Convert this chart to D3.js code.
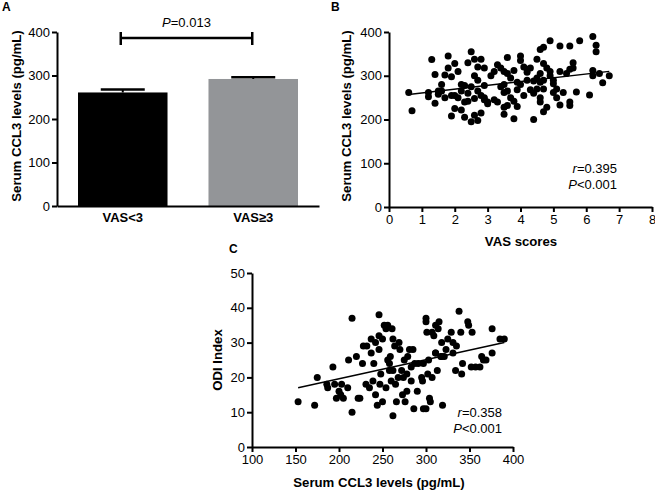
<!DOCTYPE html>
<html><head><meta charset="utf-8">
<script src="https://cdn.jsdelivr.net/npm/d3@7"></script>
<style>
body{margin:0;background:#fff;}
svg{font-family:"Liberation Sans",Arial,sans-serif;}
.axis path,.axis line{stroke:#000;stroke-width:2;}
.axis text{font-size:13px;fill:#000;}
</style></head><body>
<svg id="c" width="655" height="490"></svg>
<script>
// ---- Panel A data ----
const groups = ["VAS<3", "VAS\u22653"];
const groupMeans = [261, 292];
const groupSEM = [7, 4];
const groupColors = ["#000000", "#939598"];
const pText = "0.013";
const yTicksA = [0, 100, 200, 300, 400];

// ---- Panel B data (VAS score, CCL3) ----
const vasX = [0.6,0.7,1.2,1.2,1.3,1.4,1.4,1.5,1.5,1.6,1.7,1.7,1.8,1.8,1.9,1.9,2.0,2.0,2.0,2.1,2.1,2.2,2.2,2.3,2.3,2.3,2.4,2.4,2.4,2.5,2.5,2.6,2.6,2.6,2.6,2.7,2.7,2.7,2.7,2.8,2.8,2.8,2.9,2.9,2.9,3.0,3.0,3.2,3.2,3.3,3.4,3.5,3.5,3.5,3.5,3.6,3.6,3.6,3.7,3.7,3.8,3.8,3.8,3.9,3.9,4.0,4.0,4.0,4.1,4.2,4.2,4.3,4.3,4.4,4.4,4.5,4.6,4.6,4.6,4.6,4.7,4.7,4.7,4.7,4.7,4.8,4.8,4.9,4.9,5.0,5.0,5.1,5.1,5.2,5.2,5.2,5.3,5.4,5.5,5.5,5.5,5.6,5.6,5.7,5.8,6.1,6.2,6.2,6.2,6.3,6.3,6.4,6.5,6.7,4.6,4.5,3.1,3.4,3.6,3.3,4.1,4.4,4.9,2.2,1.9,3.9,4.5,5.0,2.5,3.5,4.2,5.5,1.6,2.9];
const vasY = [262,220,262,252,337,303,237,265,258,280,250,302,345,318,298,208,328,255,225,310,250,280,222,278,205,240,330,260,242,355,195,338,300,248,210,320,290,265,198,338,255,215,318,278,245,240,236,245,310,325,318,310,280,262,212,342,305,232,295,250,312,242,202,285,268,345,335,280,255,308,290,318,268,200,288,338,360,305,250,240,365,328,290,270,218,318,228,380,300,290,282,270,250,368,310,233,262,305,368,240,232,330,318,263,380,256,390,312,300,370,355,305,284,300,285,295,300,275,265,240,320,260,310,265,255,230,270,262,275,228,315,315,265,250];
const rB = "0.395";
const lineB = {x: [0.6, 6.7], y: [257, 310]};

// ---- Panel C data (CCL3, ODI) ----
const cclX = [153,172,175,193,187,195,200,205,210,211,215,215,220,224,227,228,231,232,235,237,237,239,240,242,242,244,246,246,247,248,246,250,250,252,254,254,256,258,258,259,260,261,262,262,264,265,266,269,270,272,273,274,275,276,278,278,279,281,283,283,285,286,290,291,295,296,297,297,300,300,301,302,303,304,305,307,307,309,311,311,313,314,315,317,318,319,321,323,325,329,331,331,334,335,338,340,341,342,348,349,353,352,357,362,364,366,369,376,376,385,390,186,197,202,203,222,256,262,268,287,300,311,318];
const odiY = [13,12,20,23,17,18,16,14,17,25,37,10,26,14,24,29,18,29,17,31,27,19,24,15,30,12,32,28,18,21,38,31,13,35,34,17,35,24,22,26,19,34,31,9,29,18,13,30,28,22,15,20,25,13,16,21,26,28,19,23,28,11,16,24,20,19,11,24,37,36,33,21,25,14,13,20,33,32,35,27,22,34,36,26,30,12,26,28,31,33,30,27,22,29,39,33,21,24,36,35,33,23,23,23,26,25,25,34,27,31,31,18,14,15,18,14,25,22,20,24,11,27,26];
const rC = "0.358";
const lineC = {x: [153, 390], y: [17, 30]};

const svg = d3.select("#c");
const BOLD = "bold";

function panelLetter(t, x, y){
  svg.append("text").attr("x", x).attr("y", y).attr("font-size", 12).attr("font-weight", BOLD).text(t);
}
function yTitle(t, x, yc){
  svg.append("text").attr("transform", `translate(${x},${yc}) rotate(-90)`)
    .attr("text-anchor", "middle").attr("font-size", 13.2).attr("font-weight", BOLD).text(t);
}
function xTitle(t, xc, y){
  svg.append("text").attr("x", xc).attr("y", y).attr("text-anchor", "middle")
    .attr("font-size", 13.2).attr("font-weight", BOLD).text(t);
}
function stats(x, y, r){
  const t1 = svg.append("text").attr("x", x).attr("y", y).attr("text-anchor", "end").attr("font-size", 13);
  t1.append("tspan").attr("font-style", "italic").text("r");
  t1.append("tspan").text("=" + r);
  const t2 = svg.append("text").attr("x", x).attr("y", y + 16).attr("text-anchor", "end").attr("font-size", 13);
  t2.append("tspan").attr("font-style", "italic").text("P");
  t2.append("tspan").text("<0.001");
}

// ================= Panel A =================
{
  const x = d3.scaleBand().domain(groups).range([57, 319]).paddingInner(0.314).paddingOuter(0.161);
  const y = d3.scaleLinear().domain([0, 400]).range([206, 32]);
  const g = svg.append("g");
  g.selectAll("rect.bar").data(groups).join("rect")
    .attr("x", d => x(d)).attr("width", x.bandwidth())
    .attr("y", (d, i) => y(groupMeans[i])).attr("height", (d, i) => y(0) - y(groupMeans[i]))
    .attr("fill", (d, i) => groupColors[i]);
  groups.forEach((d, i) => {
    const cx = x(d) + x.bandwidth() / 2;
    g.append("line").attr("x1", cx).attr("x2", cx).attr("y1", y(groupMeans[i])).attr("y2", y(groupMeans[i] + groupSEM[i]))
      .attr("stroke", "#000").attr("stroke-width", 2);
    g.append("line").attr("x1", cx - 22).attr("x2", cx + 22).attr("y1", y(groupMeans[i] + groupSEM[i])).attr("y2", y(groupMeans[i] + groupSEM[i]))
      .attr("stroke", "#000").attr("stroke-width", 2.5);
  });
  g.append("g").attr("class", "axis").attr("transform", "translate(57,0)")
    .call(d3.axisLeft(y).tickValues(yTicksA).tickSize(5).tickPadding(2).tickSizeOuter(0));
  const bx = g.append("g").attr("class", "axis").attr("transform", "translate(0,206)")
    .call(d3.axisBottom(x).tickSize(0).tickPadding(7).tickSizeOuter(0));
  bx.selectAll("text").attr("font-weight", BOLD).attr("font-size", 12);
  const x1 = x(groups[0]) + x.bandwidth() / 2 - 2, x2 = x(groups[1]) + x.bandwidth() / 2 - 1;
  g.append("line").attr("x1", x1).attr("x2", x2).attr("y1", 38).attr("y2", 38).attr("stroke", "#000").attr("stroke-width", 2.5);
  g.append("line").attr("x1", x1).attr("x2", x1).attr("y1", 32).attr("y2", 45).attr("stroke", "#000").attr("stroke-width", 2.5);
  g.append("line").attr("x1", x2).attr("x2", x2).attr("y1", 32).attr("y2", 45).attr("stroke", "#000").attr("stroke-width", 2.5);
  const pt = g.append("text").attr("x", (x1 + x2) / 2).attr("y", 27).attr("text-anchor", "middle").attr("font-size", 13);
  pt.append("tspan").attr("font-style", "italic").text("P");
  pt.append("tspan").text("=" + pText);
  panelLetter("A", 2, 11);
  yTitle("Serum CCL3 levels (pg/mL)", 21, 116);
}

// ================= Panel B =================
{
  const x = d3.scaleLinear().domain([0, 8]).range([389, 652]);
  const y = d3.scaleLinear().domain([0, 400]).range([207, 32]);
  const g = svg.append("g");
  g.append("g").attr("class", "axis").attr("transform", "translate(389,0)")
    .call(d3.axisLeft(y).tickValues(yTicksA).tickSize(5).tickPadding(2).tickSizeOuter(0));
  g.append("g").attr("class", "axis").attr("transform", "translate(0,207)")
    .call(d3.axisBottom(x).ticks(8).tickSize(5).tickPadding(3).tickSizeOuter(0));
  g.selectAll("circle").data(vasX).join("circle")
    .attr("cx", d => x(d)).attr("cy", (d, i) => y(vasY[i])).attr("r", 3.5).attr("fill", "#000");
  g.append("line").attr("x1", x(lineB.x[0])).attr("x2", x(lineB.x[1]))
    .attr("y1", y(lineB.y[0])).attr("y2", y(lineB.y[1])).attr("stroke", "#000").attr("stroke-width", 1.5);
  stats(617, 173, rB);
  panelLetter("B", 331, 11);
  yTitle("Serum CCL3 levels (pg/mL)", 351, 116);
  xTitle("VAS scores", 521, 246);
}

// ================= Panel C =================
{
  const x = d3.scaleLinear().domain([100, 400]).range([252, 513]);
  const y = d3.scaleLinear().domain([0, 50]).range([447, 273]);
  const g = svg.append("g");
  g.append("g").attr("class", "axis").attr("transform", "translate(252,0)")
    .call(d3.axisLeft(y).ticks(5).tickSize(5).tickPadding(2).tickSizeOuter(0));
  g.append("g").attr("class", "axis").attr("transform", "translate(0,447)")
    .call(d3.axisBottom(x).ticks(6).tickSize(5).tickPadding(3).tickSizeOuter(0));
  g.selectAll("circle").data(cclX).join("circle")
    .attr("cx", d => x(d)).attr("cy", (d, i) => y(odiY[i])).attr("r", 3.5).attr("fill", "#000");
  g.append("line").attr("x1", x(lineC.x[0])).attr("x2", x(lineC.x[1]))
    .attr("y1", y(lineC.y[0])).attr("y2", y(lineC.y[1])).attr("stroke", "#000").attr("stroke-width", 1.5);
  stats(502, 417, rC);
  panelLetter("C", 229, 253);
  yTitle("ODI Index", 222, 360);
  xTitle("Serum CCL3 levels (pg/mL)", 379, 487);
}
</script></body></html>
